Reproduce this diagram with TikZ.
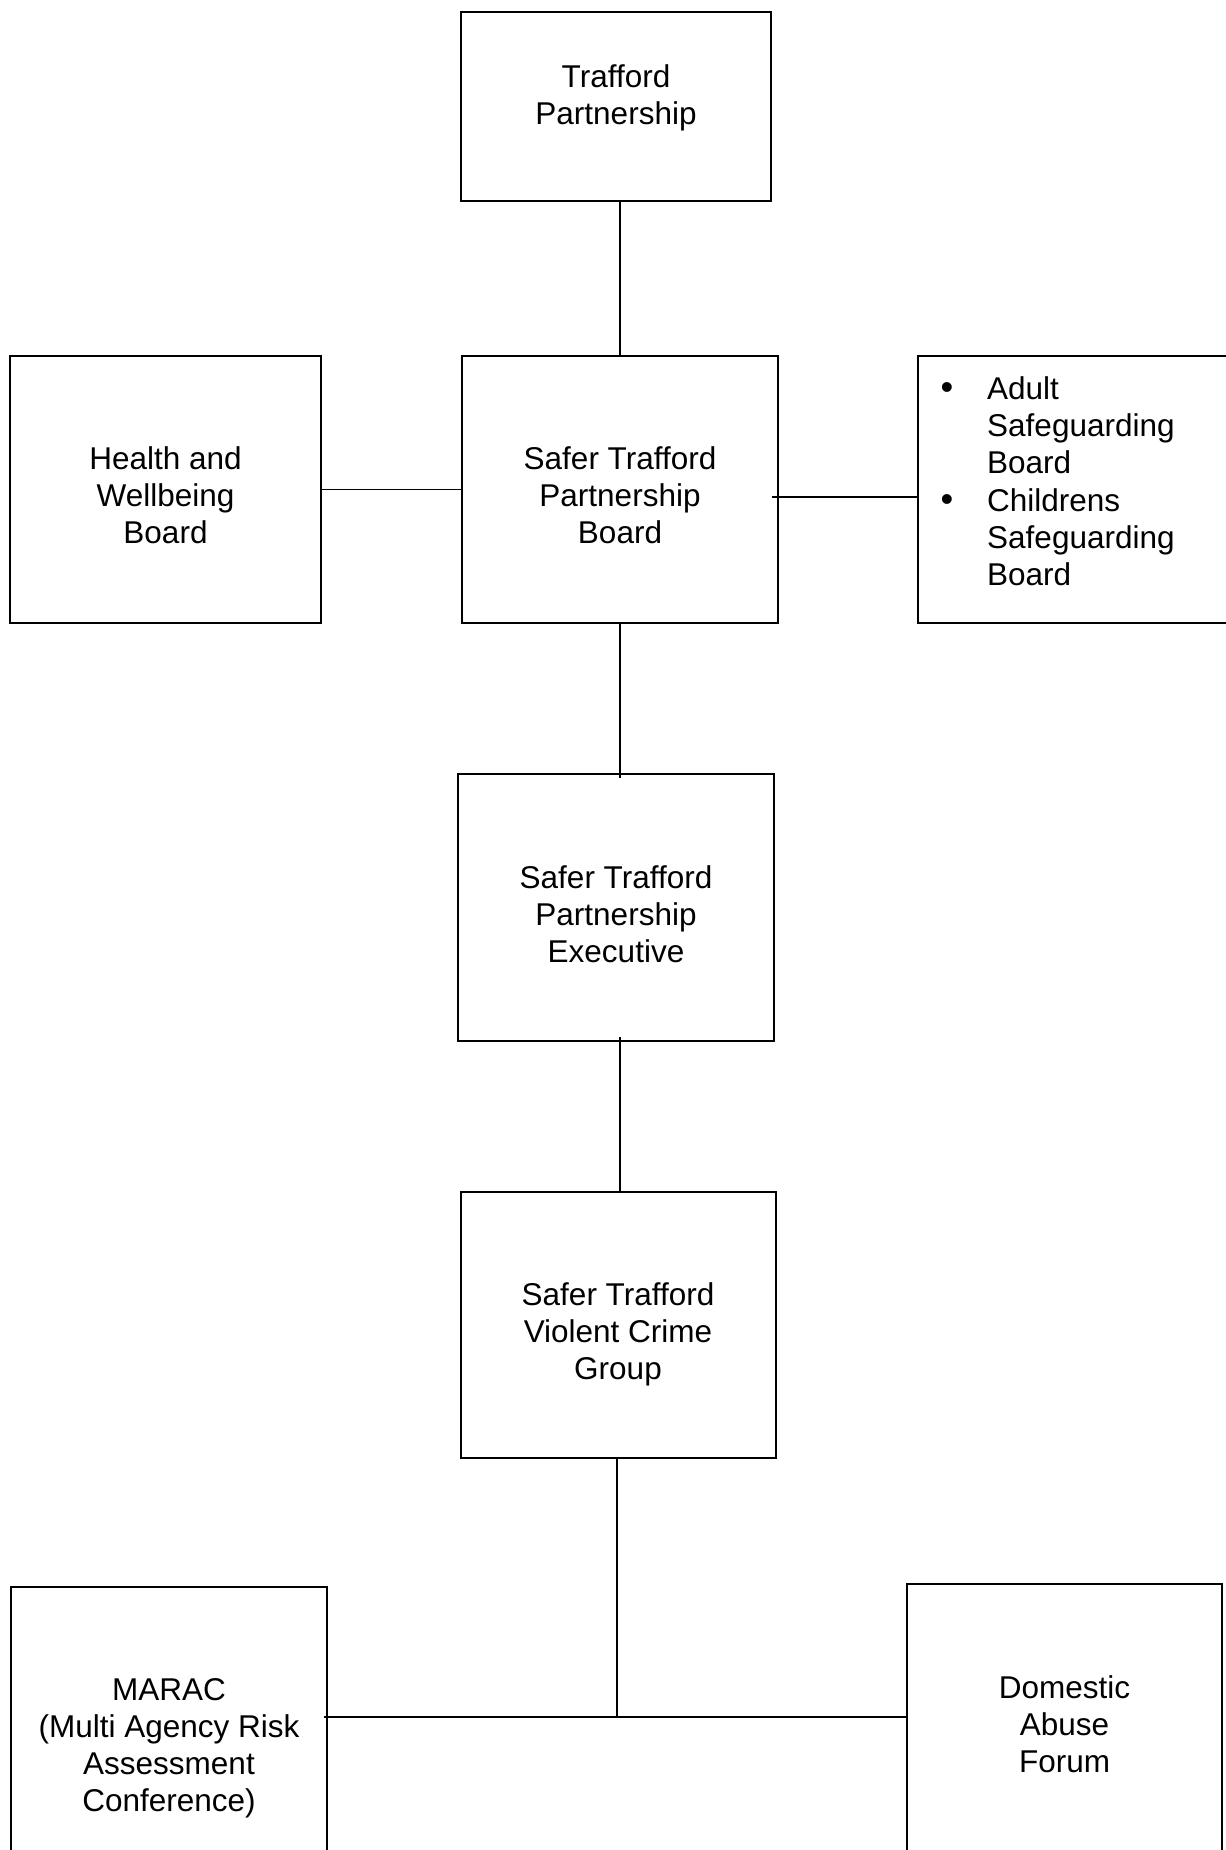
\documentclass[tikz,border=0pt]{standalone}
\usepackage{fontspec}
\setmainfont{Liberation Sans}
\begin{document}
\begin{tikzpicture}[x=1pt,y=-1pt,
  box/.style={draw=black,line width=2pt,inner sep=0pt,outer sep=0pt,minimum width=#1},
  box/.default=316pt,
  txt/.style={font=\fontsize{31.5}{37}\selectfont,align=center,anchor=base,inner sep=0pt},
  ltxt/.style={font=\fontsize{31.5}{37}\selectfont,align=left,anchor=base west,inner sep=0pt},
  conn/.style={draw=black,line width=1.6pt}]
\useasboundingbox[fill=white] (0,0) rectangle (1226,1850);
% boxes
\node[box=310pt,minimum height=189pt] (trafford) at (616,106.5) {};
\node[box=311pt,minimum height=267pt] (health) at (165.5,489.5) {};
\node[box=316pt,minimum height=267pt] (board) at (620,489.5) {};
\node[box=332pt,minimum height=267pt] (safe) at (1084,489.5) {};
\node[box=316pt,minimum height=267pt] (exec) at (616,907.5) {};
\node[box=315pt,minimum height=266pt] (vc) at (618.5,1325) {};
\node[box=316pt,minimum height=293pt] (marac) at (169,1733.5) {};
\node[box=315pt,minimum height=296pt] (daf) at (1064.5,1732) {};
% texts (anchor = baseline of last line)
\node[txt] (t1) at (616,124) {Trafford\\Partnership};
\node[txt] (t2) at (165.5,543) {Health and\\Wellbeing\\Board};
\node[txt] (t3) at (620,543) {Safer Trafford\\Partnership\\Board};
\node[txt] (t4) at (616,962) {Safer Trafford\\Partnership\\Executive};
\node[txt] (t5) at (618,1379) {Safer Trafford\\Violent Crime\\Group};
\node[txt] (t6) at (169,1811) {MARAC\\(Multi Agency Risk\\Assessment\\Conference)};
\node[txt] (t7) at (1064.5,1772) {Domestic\\Abuse\\Forum};
\node[txt,scale=1.15] (b1) at (947,399) {•};
\node[ltxt] (t8) at (987,473) {Adult\\Safeguarding\\Board};
\node[txt,scale=1.15] (b2) at (947,511) {•};
\node[ltxt] (t9) at (987,585) {Childrens\\Safeguarding\\Board};
% connectors
\coordinate (bj) at ([yshift=-7.5pt,xshift=-6pt]board.east);
\coordinate (junc) at (617,1717);
\draw[conn] (board.north) -- (board.north |- trafford.south);
\draw[conn] (health.east) -- (board.west);
\draw[conn] (bj) -- (bj -| safe.west);
\draw[conn] (board.south) -- ([yshift=-4pt]board.south |- exec.north);
\draw[conn] ([yshift=4pt]board.south |- exec.south) -- (board.south |- vc.north);
\draw[conn] (junc |- vc.south) -- (junc);
\draw[conn] ([xshift=-3pt]marac.east |- junc) -- (junc -| daf.west);
\end{tikzpicture}
\end{document}
